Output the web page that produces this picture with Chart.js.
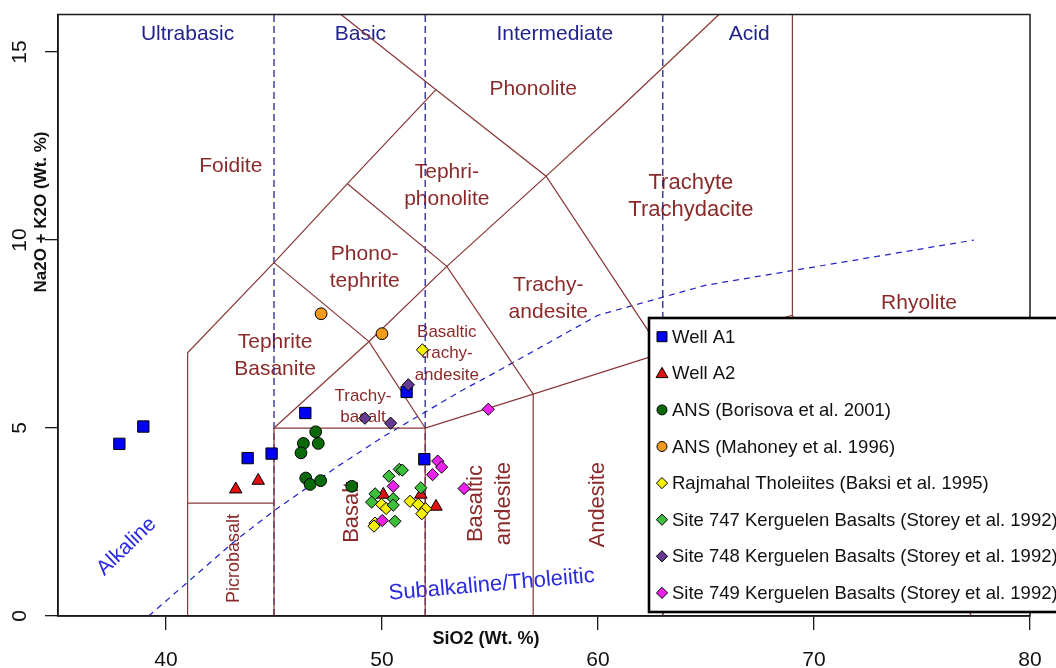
<!DOCTYPE html>
<html>
<head>
<meta charset="utf-8">
<title>TAS diagram</title>
<script src="https://cdn.jsdelivr.net/npm/chart.js@4.4.1/dist/chart.umd.min.js"></script>
<style>
  html, body { margin: 0; padding: 0; background: #ffffff; }
  #wrap { width: 1056px; height: 668px; }
</style>
</head>
<body>
<div id="wrap"><canvas id="tas" width="1056" height="668"></canvas></div>
<script>
// ---- axis ticks ----
const xTickValues = [40, 50, 60, 70, 80];
const yTickValues = [0, 5, 10, 15];

// ---- sample groups: SiO2 and Na2O + K2O (wt.%) ----
const seriesNames = [
  'Well A1',
  'Well A2',
  'ANS (Borisova et al. 2001)',
  'ANS (Mahoney et al. 1996)',
  'Rajmahal Tholeiites (Baksi et al. 1995)',
  'Site 747 Kerguelen Basalts (Storey et al. 1992)',
  'Site 748 Kerguelen Basalts (Storey et al. 1992)',
  'Site 749 Kerguelen Basalts (Storey et al. 1992)'
];

const wellA1SiO2 = [37.84, 38.95, 43.78, 44.89, 46.45, 51.14, 51.96];
const wellA1Alk  = [4.58, 5.04, 4.20, 4.32, 5.40, 5.96, 4.17];

const wellA2SiO2 = [43.23, 44.27, 50.06, 51.80, 52.50];
const wellA2Alk  = [3.37, 3.60, 3.23, 3.23, 2.91];

const borisovaSiO2 = [46.93, 46.36, 47.05, 46.25, 46.47, 46.67, 47.16, 48.60];
const borisovaAlk  = [4.90, 4.59, 4.59, 4.34, 3.67, 3.50, 3.60, 3.45];

const mahoneySiO2 = [47.18, 50.00];
const mahoneyAlk  = [8.04, 7.51];

const rajmahalSiO2 = [49.98, 50.19, 49.68, 49.63, 51.30, 51.68, 52.02, 51.84, 51.87];
const rajmahalAlk  = [2.97, 2.86, 2.47, 2.39, 3.05, 2.97, 2.85, 2.72, 7.08];

const site747SiO2 = [50.80, 50.94, 50.32, 49.68, 49.52, 50.52, 50.52, 50.60, 51.80];
const site747Alk  = [3.90, 3.88, 3.72, 3.25, 3.03, 3.12, 2.95, 2.52, 3.41];

const site748SiO2 = [49.21, 50.40, 51.22];
const site748Alk  = [5.26, 5.13, 6.15];

const site749SiO2 = [52.58, 52.76, 52.34, 50.52, 53.80, 50.01, 54.92];
const site749Alk  = [4.12, 3.96, 3.76, 3.45, 3.39, 2.54, 5.50];

// ---- TAS field boundaries (SiO2, Na2O + K2O) ----
const foiditeEdge       = [[41, 0], [41, 7], [45, 9.4], [48.4, 11.5], [52.5, 14]];
const phonoliteEdge     = [[48.1, 16], [52.5, 14], [57.6, 11.7], [63, 7]];
const picrobasaltTop    = [[41, 3], [45, 3]];
const basaltBox         = [[45, 0], [45, 5], [52, 5], [52, 0]];
const trachyEdge        = [[45, 5], [49.4, 7.3], [53, 9.3], [57.6, 11.7], [61, 13.5], [65.6, 16]];
const tephriteEdge      = [[45, 9.4], [49.4, 7.3], [52, 5]];
const phonotephriteEdge = [[48.4, 11.5], [53, 9.3], [57, 5.9], [57, 0]];
const andesiteTop       = [[52, 5], [57, 5.9], [63, 7], [69, 8]];
const andesiteRight     = [[63, 7], [63, 0]];
const rhyoliteEdge      = [[69, 16], [69, 8], [77.3, 0]];

// silica-saturation divisions
const silicaDivisions = [45, 52, 63];

// alkaline / subalkaline divide (Irvine & Baragar 1971)
const divideSiO2 = [39.2, 40, 43.2, 45, 48, 50, 53.7, 55, 60, 65, 77.4];
const divideAlk  = [0, 0.4, 2, 2.8, 4, 4.75, 6, 6.4, 8, 8.8, 10];

// ---- text annotations, anchored in data units ----
const groupNames = ['Ultrabasic', 'Basic', 'Intermediate', 'Acid'];
const groupSiO2  = [41, 49, 58, 67];
const groupAlk   = [15.48, 15.48, 15.48, 15.48];

const fieldNames = ['Phonolite', 'Foidite', 'Tephri-\nphonolite', 'Trachyte\nTrachydacite',
  'Phono-\ntephrite', 'Trachy-\nandesite', 'Rhyolite', 'Tephrite\nBasanite',
  'Basaltic\ntrachy-\nandesite', 'Trachy-\nbasalt', 'Basalt', 'Basaltic\nandesite',
  'Andesite', 'Picrobasalt'];
const fieldSiO2 = [57.0, 43.0, 53.0, 64.3, 49.2, 57.7, 74.86, 45.05, 53.0, 49.12, 48.6, 55.0, 60.0, 43.17];
const fieldAlk  = [14.0, 11.96, 11.45, 11.15, 9.27, 8.44, 8.33, 6.93, 6.98, 5.57, 2.76, 2.99, 2.96, 1.53];

const seriesLabels = ['Alkaline', 'Subalkaline/Tholeiitic'];
const seriesLabelSiO2 = [38.18, 55.08];
const seriesLabelAlk  = [1.85, 0.83];

// ---------------------------------------------------------------
const FONT = '"Liberation Sans", Arial, Helvetica, sans-serif';
const toPoints = (xs, ys) => xs.map((x, i) => ({ x: x, y: ys[i] }));
const pairPoints = arr => arr.map(p => ({ x: p[0], y: p[1] }));

const sampleSiO2 = [wellA1SiO2, wellA2SiO2, borisovaSiO2, mahoneySiO2, rajmahalSiO2, site747SiO2, site748SiO2, site749SiO2];
const sampleAlk  = [wellA1Alk, wellA2Alk, borisovaAlk, mahoneyAlk, rajmahalAlk, site747Alk, site748Alk, site749Alk];

const sampleStyle = [
  { shape: 'rect',     r: 8.0, fill: '#0000F5' },
  { shape: 'triangle', r: 7.2, fill: '#E01010' },
  { shape: 'circle',   r: 5.9, fill: '#0A6A0A' },
  { shape: 'circle',   r: 5.9, fill: '#F29A1C' },
  { shape: 'rectRot',  r: 6.1, fill: '#F5F000' },
  { shape: 'rectRot',  r: 6.1, fill: '#3CC03C' },
  { shape: 'rectRot',  r: 6.1, fill: '#673A93' },
  { shape: 'rectRot',  r: 6.1, fill: '#EE22EE' }
];

const datasets = [];

seriesNames.forEach((name, i) => {
  const s = sampleStyle[i];
  datasets.push({
    label: name,
    isSample: true,
    data: toPoints(sampleSiO2[i], sampleAlk[i]),
    pointStyle: s.shape,
    pointRadius: s.r,
    pointBackgroundColor: s.fill,
    pointBorderColor: '#000000',
    pointBorderWidth: 1,
    showLine: false,
    order: -i
  });
});

const fieldColor = '#8A3A3A';
[foiditeEdge, phonoliteEdge, picrobasaltTop, basaltBox, trachyEdge, tephriteEdge,
 phonotephriteEdge, andesiteTop, andesiteRight, rhyoliteEdge].forEach(line => {
  datasets.push({
    data: pairPoints(line),
    showLine: true,
    borderColor: fieldColor,
    borderWidth: 1.25,
    pointRadius: 0,
    tension: 0,
    fill: false,
    order: 10
  });
});

silicaDivisions.forEach(x => {
  datasets.push({
    data: [{ x: x, y: 0 }, { x: x, y: 16 }],
    showLine: true,
    borderColor: '#1C1C86',
    borderWidth: 1.25,
    borderDash: [7, 4],
    pointRadius: 0,
    fill: false,
    order: 11
  });
});

datasets.push({
  data: toPoints(divideSiO2, divideAlk),
  showLine: true,
  borderColor: '#2424C8',
  borderWidth: 1.25,
  borderDash: [6, 5],
  pointRadius: 0,
  tension: 0,
  fill: false,
  order: 11
});

// ---- drawing helpers ----
function drawLines(ctx, text, px, py, font, color, angle, lineGap) {
  const lines = text.split('\n');
  ctx.save();
  ctx.translate(px, py);
  ctx.rotate(angle);
  ctx.font = font;
  ctx.fillStyle = color;
  ctx.textAlign = 'center';
  ctx.textBaseline = 'middle';
  lines.forEach((ln, k) => {
    ctx.fillText(ln, 0, (k - (lines.length - 1) / 2) * lineGap);
  });
  ctx.restore();
}

function drawMarker(ctx, shape, x, y, r, fill) {
  ctx.save();
  ctx.fillStyle = fill;
  ctx.strokeStyle = '#000000';
  ctx.lineWidth = 1;
  ctx.beginPath();
  if (shape === 'rect') {
    ctx.rect(x - r, y - r, 2 * r, 2 * r);
  } else if (shape === 'triangle') {
    ctx.moveTo(x, y - r * 1.1);
    ctx.lineTo(x + r * 1.1, y + r * 0.8);
    ctx.lineTo(x - r * 1.1, y + r * 0.8);
    ctx.closePath();
  } else if (shape === 'circle') {
    ctx.arc(x, y, r, 0, Math.PI * 2);
  } else {
    ctx.moveTo(x, y - r);
    ctx.lineTo(x + r, y);
    ctx.lineTo(x, y + r);
    ctx.lineTo(x - r, y);
    ctx.closePath();
  }
  ctx.fill();
  ctx.stroke();
  ctx.restore();
}

// field and group names, drawn beneath the markers
const fieldTextStyle = {
  'Basaltic\ntrachy-\nandesite': { size: 17, gap: 21.5, angle: 0 },
  'Trachy-\nbasalt': { size: 17, gap: 21.5, angle: 0 },
  'Picrobasalt': { size: 18, gap: 22, angle: -Math.PI / 2 },
  'Basalt': { size: 22, gap: 27, angle: -Math.PI / 2 },
  'Basaltic\nandesite': { size: 22, gap: 27.5, angle: -Math.PI / 2 },
  'Andesite': { size: 22, gap: 27, angle: -Math.PI / 2 },
  'Trachyte\nTrachydacite': { size: 22, gap: 27, angle: 0 }
};

const annotationPlugin = {
  id: 'tasAnnotations',
  beforeDraw(chart) {
    const ctx = chart.ctx;
    ctx.save();
    ctx.fillStyle = '#ffffff';
    ctx.fillRect(0, 0, chart.width, chart.height);
    ctx.restore();
  },
  beforeDatasetsDraw(chart) {
    const ctx = chart.ctx;
    const xs = chart.scales.x, ys = chart.scales.y;
    const a = chart.chartArea;
    ctx.save();
    ctx.beginPath();
    ctx.rect(a.left, a.top, a.right - a.left, a.bottom - a.top);
    ctx.clip();

    groupNames.forEach((g, i) => {
      drawLines(ctx, g, xs.getPixelForValue(groupSiO2[i]), ys.getPixelForValue(groupAlk[i]),
        '21px ' + FONT, '#23238C', 0, 26);
    });

    fieldNames.forEach((f, i) => {
      const st = fieldTextStyle[f] || { size: 21, gap: 27, angle: 0 };
      drawLines(ctx, f, xs.getPixelForValue(fieldSiO2[i]), ys.getPixelForValue(fieldAlk[i]),
        st.size + 'px ' + FONT, '#8B2A2A', st.angle, st.gap);
    });

    const seriesAngles = [-44 * Math.PI / 180, -5 * Math.PI / 180];
    const seriesSizes = [21, 22];
    seriesLabels.forEach((t, i) => {
      drawLines(ctx, t, xs.getPixelForValue(seriesLabelSiO2[i]), ys.getPixelForValue(seriesLabelAlk[i]),
        seriesSizes[i] + 'px ' + FONT, '#2A2AE0', seriesAngles[i], 26);
    });
    ctx.restore();
  },
  afterDraw(chart) {
    const ctx = chart.ctx;
    const a = chart.chartArea;

    // plot frame
    ctx.save();
    ctx.strokeStyle = '#1a1a1a';
    ctx.lineWidth = 1.5;
    ctx.strokeRect(a.left, a.top, a.right - a.left, a.bottom - a.top);
    ctx.restore();

    // axis titles
    drawLines(ctx, 'SiO2 (Wt. %)', 486, 639, 'bold 18px ' + FONT, '#111111', 0, 20);
    drawLines(ctx, 'Na2O + K2O (Wt. %)', 41, 212, 'bold 17px ' + FONT, '#111111', -Math.PI / 2, 20);

    // legend
    const box = { left: 649, top: 318, right: 1075, bottom: 612 };
    ctx.save();
    ctx.fillStyle = '#ffffff';
    ctx.fillRect(box.left, box.top, box.right - box.left, box.bottom - box.top);
    ctx.strokeStyle = '#000000';
    ctx.lineWidth = 2.6;
    ctx.strokeRect(box.left, box.top, box.right - box.left, box.bottom - box.top);
    ctx.restore();

    const legendSize = { rect: 5, triangle: 5.4, circle: 5, rectRot: 5.6 };
    chart.data.datasets.filter(d => d.isSample).forEach((d, i) => {
      const y = box.top + 18.7 + i * 36.6;
      drawMarker(ctx, d.pointStyle, 662, y, legendSize[d.pointStyle], d.pointBackgroundColor);
      ctx.save();
      ctx.font = '18.5px ' + FONT;
      ctx.fillStyle = '#111111';
      ctx.textAlign = 'left';
      ctx.textBaseline = 'middle';
      ctx.fillText(d.label, 672, y + 1);
      ctx.restore();
    });
  }
};

new Chart(document.getElementById('tas'), {
  type: 'scatter',
  data: { datasets: datasets },
  plugins: [annotationPlugin],
  options: {
    responsive: false,
    devicePixelRatio: 1,
    animation: false,
    events: [],
    layout: { padding: { top: 14.5, right: 26, left: 0, bottom: 0 } },
    plugins: {
      legend: { display: false },
      tooltip: { enabled: false },
      title: { display: false }
    },
    scales: {
      x: {
        type: 'linear',
        min: 35,
        max: 80,
        afterBuildTicks: s => { s.ticks = xTickValues.map(v => ({ value: v })); },
        afterFit: s => { s.height = 52; s.paddingLeft = 0; s.paddingRight = 0; },
        grid: { drawOnChartArea: false, drawTicks: true, tickLength: 14, color: '#1a1a1a', lineWidth: 1.3 },
        border: { display: true, color: '#1a1a1a', width: 1.5 },
        ticks: {
          autoSkip: false,
          maxRotation: 0,
          padding: 18,
          color: '#111111',
          font: { family: FONT, size: 21 },
          callback: v => String(v)
        }
      },
      y: {
        type: 'linear',
        min: 0,
        max: 16,
        afterBuildTicks: s => { s.ticks = yTickValues.map(v => ({ value: v })); },
        afterFit: s => { s.width = 58; s.paddingTop = 0; s.paddingBottom = 0; },
        grid: { drawOnChartArea: false, drawTicks: true, tickLength: 13, color: '#1a1a1a', lineWidth: 1.3 },
        border: { display: true, color: '#1a1a1a', width: 1.5 },
        ticks: {
          autoSkip: false,
          minRotation: 90,
          maxRotation: 90,
          crossAlign: 'center',
          padding: 13,
          color: '#111111',
          font: { family: FONT, size: 21 },
          callback: v => String(v)
        }
      }
    }
  }
});
</script>
</body>
</html>
